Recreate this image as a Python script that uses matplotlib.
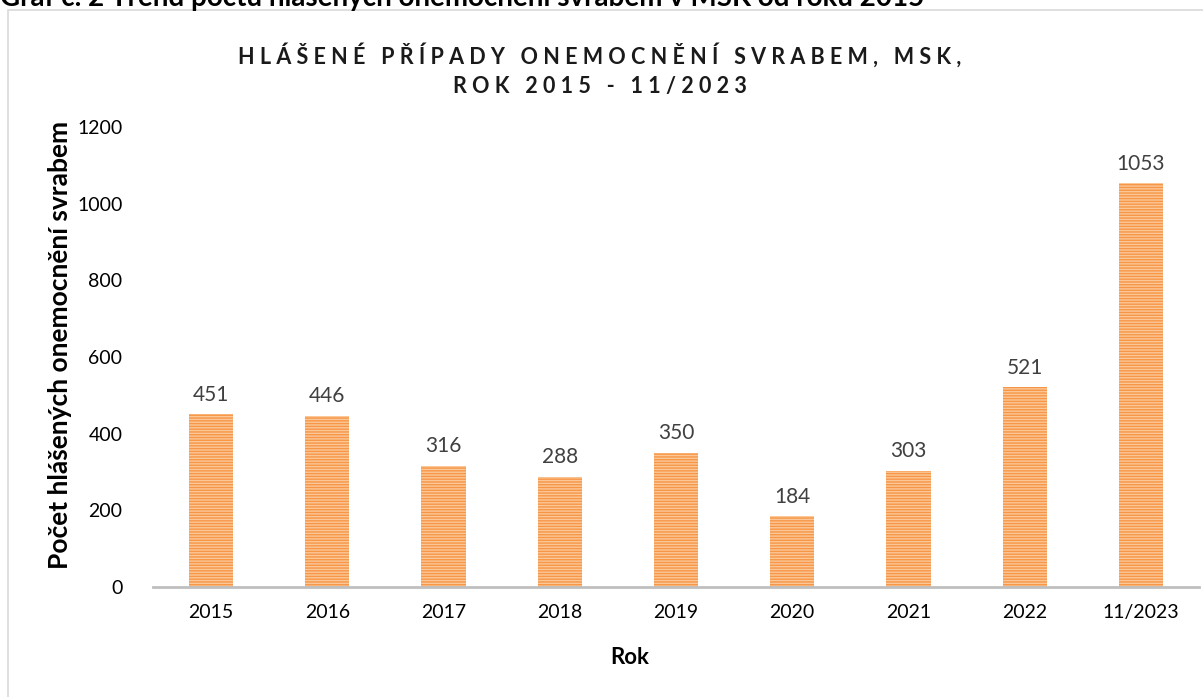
import matplotlib.pyplot as plt
from matplotlib.patches import Rectangle

# data
years = ["2015", "2016", "2017", "2018", "2019", "2020", "2021", "2022", "11/2023"]
cases = [451, 446, 316, 288, 350, 184, 303, 521, 1053]
y_ticks = [0, 200, 400, 600, 800, 1000, 1200]

title_lines = ["HLÁŠENÉ PŘÍPADY ONEMOCNĚNÍ SVRABEM, MSK,", "ROK 2015 - 11/2023"]
caption = "Graf č. 2 Trend počtu hlášených onemocnění svrabem v MSK od roku 2015"


def spaced(s):
    # mimic the letter spacing of the original title
    return "   ".join(" ".join(w) for w in s.split(" "))


plt.rcParams['font.family'] = ['Lato', 'DejaVu Sans']
plt.rcParams['hatch.linewidth'] = 1.0

fig = plt.figure(figsize=(12.03, 6.97), dpi=100)

# light chart frame
fig.patches.append(Rectangle((8 / 1203, -0.01), 1.0, 1 - 10 / 697 + 0.01, transform=fig.transFigure,
                             fill=False, edgecolor='#D9D9D9', linewidth=1.2, zorder=0))

# caption cut off at the top, as in the source document
fig.text(0.0, 1 - 6 / 697, caption, fontsize=20, fontweight='bold', ha='left', va='baseline', color='black')

ax = fig.add_axes([153 / 1203, 1 - 587 / 697, 1046 / 1203, 460 / 697])
x = range(len(years))
ax.bar(x, cases, width=0.38, color='#FBC797', edgecolor='#F79646', hatch='------', linewidth=0, zorder=2)

for xi, v in zip(x, cases):
    ax.text(xi, v + 25, str(v), ha='center', va='bottom', fontsize=15, color='#404040')

ax.set_xlim(-0.5, len(years) - 0.5)
ax.set_ylim(0, 1200)
ax.set_yticks(y_ticks)
ax.set_xticks(list(x))
ax.set_xticklabels(years)
ax.tick_params(axis='both', length=0, labelsize=14, colors='black')
ax.tick_params(axis='x', pad=12)
ax.tick_params(axis='y', pad=22)

for side in ['top', 'right', 'left']:
    ax.spines[side].set_visible(False)
ax.spines['bottom'].set_color('#BFBFBF')
ax.spines['bottom'].set_linewidth(2)

fig.text(60 / 1203, 1 - 345 / 697, "Počet hlášených onemocnění svrabem", rotation=90, ha='center', va='center',
         fontsize=19, fontweight='bold')
fig.text(630 / 1203, 1 - 657 / 697, "Rok", ha='center', va='center', fontsize=16, fontweight='bold')

fig.text(600 / 1203, 1 - 55 / 697, spaced(title_lines[0]), ha='center', va='center', fontsize=15.5,
         fontweight='bold', color='#1a1a1a')
fig.text(600 / 1203, 1 - 87 / 697, spaced(title_lines[1]), ha='center', va='center', fontsize=15.5,
         fontweight='bold', color='#1a1a1a')

fig.savefig("out.png", dpi=100)
